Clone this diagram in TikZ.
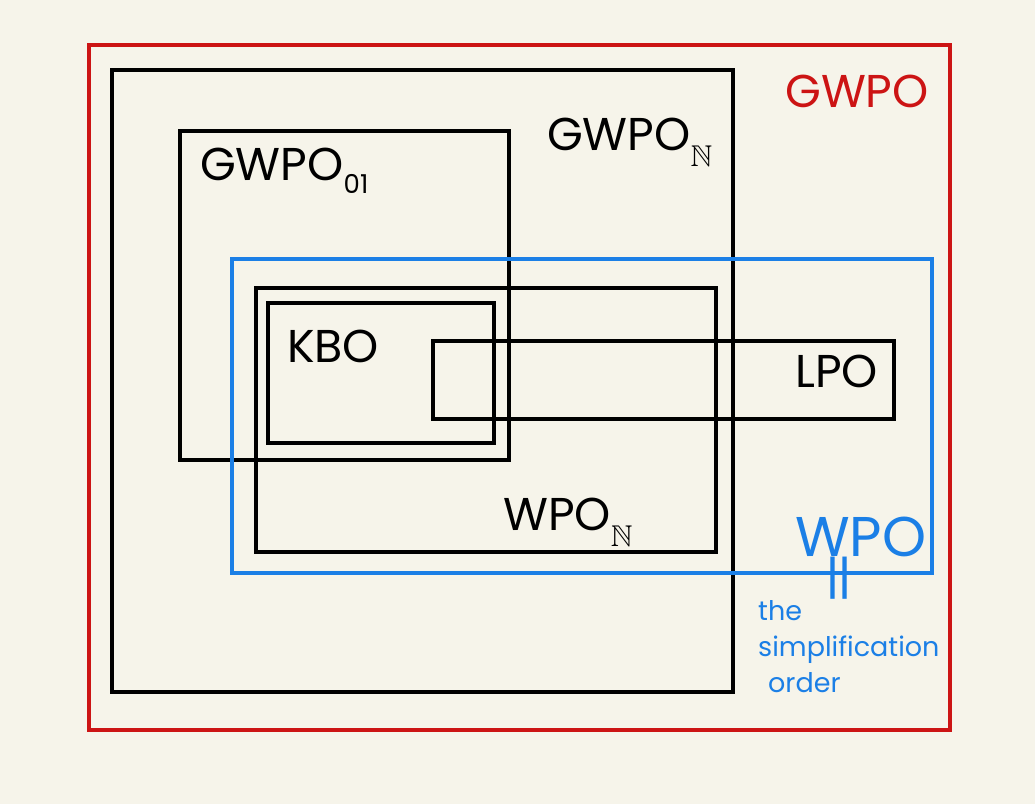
\documentclass[tikz,border=0pt]{standalone}
\usepackage{fontspec}
\usepackage{amssymb}
\setmainfont{Poppins}
\definecolor{bg}{HTML}{F6F4EA}
\definecolor{gred}{HTML}{CC1414}
\definecolor{wblue}{HTML}{1B7FE6}
\newcommand{\subtxt}[1]{\raisebox{-13pt}{\fontsize{26}{26}\selectfont #1}}
\newcommand{\subN}{\raisebox{-16pt}{\fontsize{30}{30}\selectfont$\mathbb{N}$}}
\tikzset{
  frame/.style={draw=black, line width=3.2pt},
  redframe/.style={draw=gred, line width=3.2pt},
  blueframe/.style={draw=wblue, line width=3.2pt},
  lbl/.style={anchor=base west, inner sep=0pt, font=\fontsize{46}{50}\selectfont},
  small/.style={anchor=base west, inner sep=0pt, text=wblue, font=\fontsize{27}{30}\selectfont},
}
\begin{document}
\begin{tikzpicture}[x=1pt,y=-1pt]
\fill[bg] (0,0) rectangle (1035,804);
\useasboundingbox (0,0) rectangle (1035,804);
% boxes
\draw[redframe] (89,45) rectangle (950,730);
\draw[frame] (112,70) rectangle (733,692);
\draw[frame] (180,131) rectangle (509,460);
\draw[blueframe] (232,259) rectangle (932,573);
\draw[frame] (256,288) rectangle (716,552);
\draw[frame] (268,303) rectangle (494,443);
\draw[frame] (433,341) rectangle (894,419);
% labels
\node[lbl, text=gred] (gwpo) at (785,107) {GWPO};
\node[lbl] (gwpon) at (547,150) {GWPO\subN};
\node[lbl] (gwpo01) at (200,180) {GWPO\subtxt{01}};
\node[lbl] (kbo) at (287,362) {KBO};
\node[lbl] (lpo) at (795,387) {LPO};
\node[lbl] (wpon) at (503,530) {WPO\subN};
\node[lbl, text=wblue, font=\fontsize{56}{60}\selectfont] (wpo) at (795,556) {WPO};
\node[inner sep=0pt, text=wblue, rotate=90, font=\fontsize{56}{56}\selectfont] (eq) at (845,578) {\scalebox{1.45}[1]{=}};
\node[small] (the) at (758,620) {the};
\node[small] (simp) at (758,656) {simplification};
\node[small] (order) at (768,692) {order};
\end{tikzpicture}
\end{document}
